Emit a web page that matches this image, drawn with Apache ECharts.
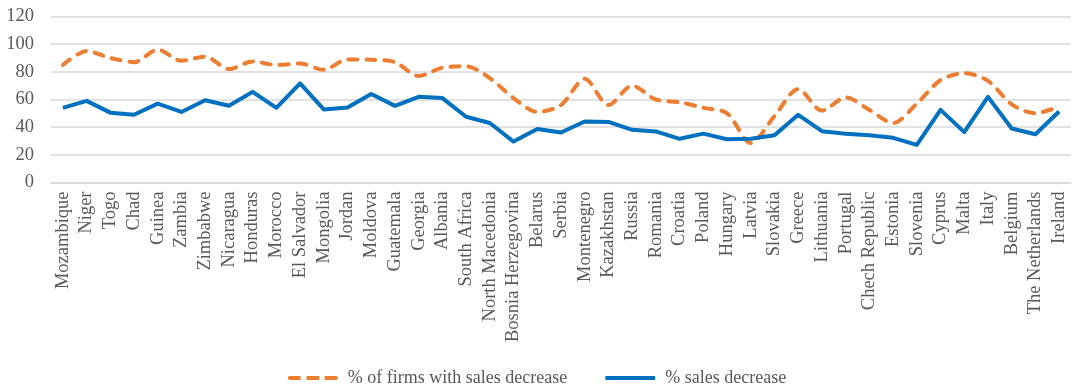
<!DOCTYPE html>
<html><head><meta charset="utf-8">
<script src="https://cdn.jsdelivr.net/npm/echarts@6/dist/echarts.min.js"></script>
<style>html,body{margin:0;padding:0;background:#fff}#c{width:1074px;height:387px}</style>
</head><body><div id="c"></div>
<script>
const categories = ["Mozambique","Niger","Togo","Chad","Guinea","Zambia","Zimbabwe","Nicaragua","Honduras","Morocco","El Salvador","Mongolia","Jordan","Moldova","Guatemala","Georgia","Albania","South Africa","North Macedonia","Bosnia Herzegovina","Belarus","Serbia","Montenegro","Kazakhstan","Russia","Romania","Croatia","Poland","Hungary","Latvia","Slovakia","Greece","Lithuania","Portugal","Chech Republic","Estonia","Slovenia","Cyprus","Malta","Italy","Belgium","The Netherlands","Ireland"];
const firmsWithDecrease = [85,95,90,87,96,88,91,82,87.5,85,86,81.5,89,88.7,87,77,83,84,75.5,61,51,56,75,56,70,60,58,54,50,28.5,48,67.5,52,61.5,52.5,43,57,74,79,73.5,56.5,50,55];
const salesDecrease = [54,59,50.5,49,57,51,59.5,55.5,65.5,54,71.6,52.8,54.2,64,55.4,61.9,61,47.5,43,29.6,38.6,36.1,44.1,43.8,38.1,36.9,31.6,35.3,31.3,31.6,34.2,48.9,37.1,35.2,34.2,32.3,27.2,52.5,36.4,61.9,39,34.9,51.3];
const yTicks = [0,20,40,60,80,100,120];

const chart = echarts.init(document.getElementById('c'));
const font = '"Liberation Serif", "Times New Roman", serif';
const dashIcon = 'path://M1.5,0h11v4h-11a2,2 0 0 1 0,-4z M18.5,0h13v4h-13z M37,0h11.5a2,2 0 0 1 0,4h-11.5z';
chart.setOption({
  animation: false,
  textStyle: {fontFamily: font},
  grid: {left: 51, right: 3, top: 16.5, bottom: 204.5, containLabel: false},
  legend: {
    top: 364, left: 'center', itemWidth: 50, itemHeight: 4, itemGap: 38,
    textStyle: {fontFamily: font, fontSize: 18, color: '#595959', padding: [0, 0, 0, 5]},
    data: [
      {name: '% of firms with sales decrease', icon: dashIcon},
      {name: '% sales decrease', icon: 'roundRect'}
    ]
  },
  xAxis: {
    type: 'category', data: categories, boundaryGap: true,
    axisLine: {lineStyle: {color: '#d9d9d9', width: 1.5}},
    axisTick: {show: false},
    axisLabel: {rotate: 90, interval: 0, margin: 9, fontFamily: font, fontSize: 18.5, color: '#595959'}
  },
  yAxis: {
    type: 'value', min: yTicks[0], max: yTicks[yTicks.length-1], interval: 20,
    axisLine: {show: false}, axisTick: {show: false},
    splitLine: {lineStyle: {color: '#d9d9d9', width: 1.5}},
    axisLabel: {margin: 17, fontFamily: font, fontSize: 18.5, color: '#595959'}
  },
  series: [
    {name: '% of firms with sales decrease', type: 'line', data: firmsWithDecrease,
     smooth: 0.3, symbol: 'none', z: 2,
     lineStyle: {color: '#ED7D31', width: 4, type: [9, 9], cap: 'round'},
     itemStyle: {color: '#ED7D31'}},
    {name: '% sales decrease', type: 'line', data: salesDecrease,
     symbol: 'none', z: 3,
     lineStyle: {color: '#0070C0', width: 4, join: 'round'},
     itemStyle: {color: '#0070C0'}}
  ]
});
</script></body></html>
